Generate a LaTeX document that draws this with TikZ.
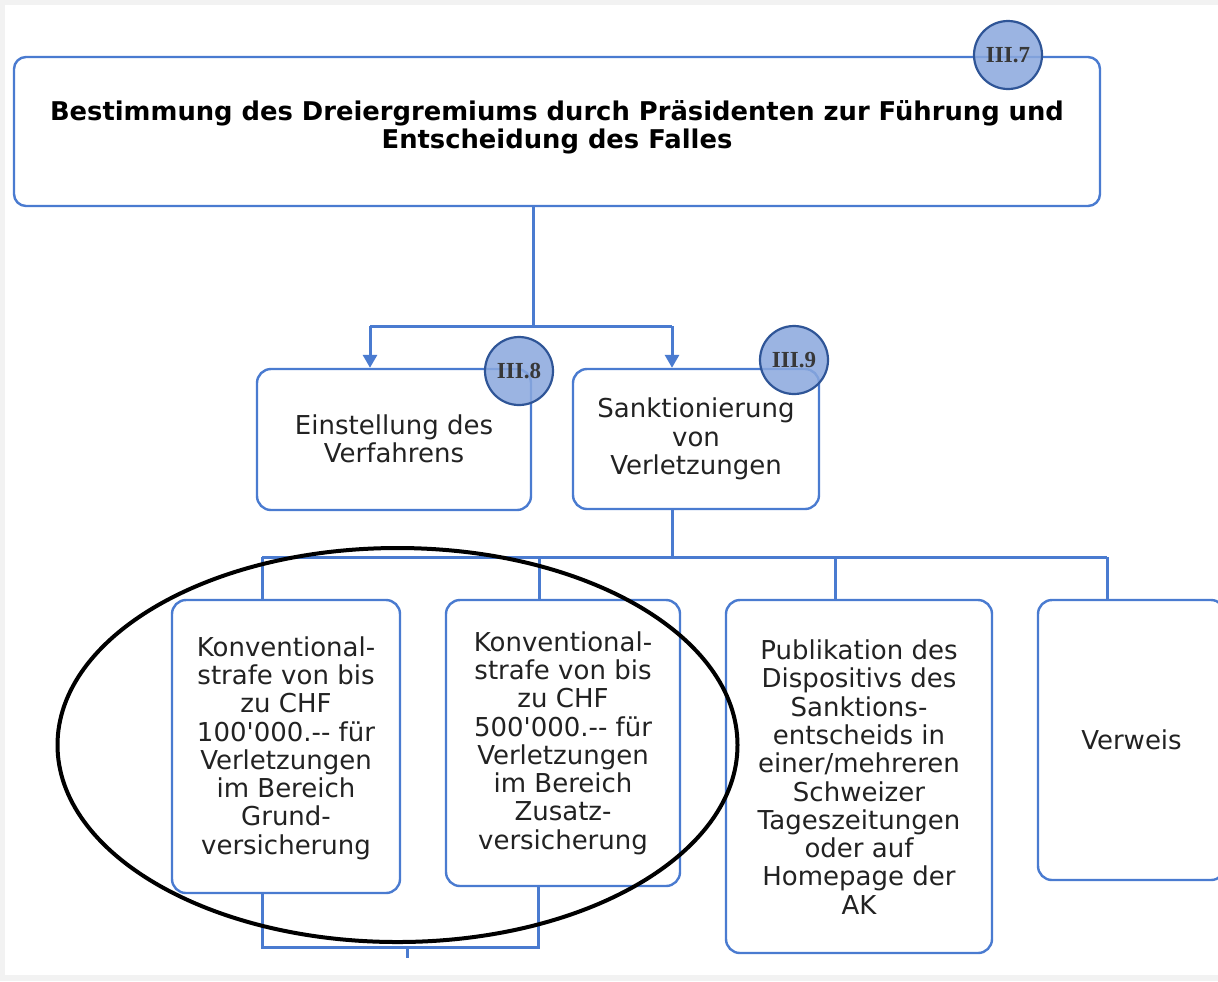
\documentclass[tikz,border=0pt]{standalone}
\usepackage{fontspec}
\setmainfont{DejaVu Sans}[Ligatures=TeXOff]
\newfontfamily\circfont{Liberation Serif}
\usetikzlibrary{arrows.meta}
\definecolor{boxblue}{HTML}{4A7BD0}
\definecolor{circfill}{HTML}{8AA8DE}
\definecolor{circline}{HTML}{2F5597}
\definecolor{txt}{HTML}{222222}
\definecolor{frame}{HTML}{F2F2F2}
\tikzset{
  box/.style={draw=boxblue, line width=1.2pt, rounded corners=7pt, fill=white, inner sep=0pt},
  boxtext/.style={align=center, text=txt, font=\fontsize{13}{14.15}\selectfont, inner sep=0pt},
  titletext/.style={align=center, text=black, font=\fontsize{12.9}{14}\selectfont\bfseries, inner sep=0pt},
  badge/.style={circle, draw=circline, line width=1.1pt, fill=circfill, fill opacity=0.85, text opacity=1, minimum size=34pt, inner sep=0pt, text=txt!90, font=\circfont\bfseries\fontsize{11.5}{12}\selectfont},
  conn/.style={draw=boxblue, line width=1.5pt},
  arr/.style={conn, -{Triangle[length=6.5pt,width=7pt]}},
  ring/.style={draw=black, line width=2pt}
}
\begin{document}
\begin{tikzpicture}[x=0.5pt,y=-0.5pt]
\useasboundingbox (0,0) rectangle (1218,981);
\clip (0,0) rectangle (1218,981);
\fill[frame] (0,0) rectangle (1218,981);
\fill[white] (5,5) rectangle (1218,975);

% boxes
\node[box, minimum width=543pt, minimum height=74.5pt, rounded corners=6pt] (top) at (557,131.5) {};
\node[titletext] (toptext) at (557,127.5) {Bestimmung des Dreiergremiums durch Präsidenten zur Führung und\\Entscheidung des Falles};

\node[box, minimum width=137pt, minimum height=70.5pt] (ein) at (394,439.5) {};
\node[boxtext] (eintext) at (394,439) {Einstellung des\\Verfahrens};

\node[box, minimum width=123pt, minimum height=70pt] (sank) at (696,439) {};
\node[boxtext] (sanktext) at (696,439) {Sanktionierung\\von\\Verletzungen};

\node[box, minimum width=114pt, minimum height=146.5pt] (k1) at (286,746.5) {};
\node[boxtext] (k1text) at (286,748) {Konventional-\\strafe von bis\\zu CHF\\100'000.-- für\\Verletzungen\\im Bereich\\Grund-\\versicherung};

\node[box, minimum width=117pt, minimum height=143pt] (k2) at (563,743) {};
\node[boxtext] (k2text) at (563,743) {Konventional-\\strafe von bis\\zu CHF\\500'000.-- für\\Verletzungen\\im Bereich\\Zusatz-\\versicherung};

\node[box, minimum width=133pt, minimum height=176.5pt] (pub) at (859,776.5) {};
\node[boxtext] (pubtext) at (859,777) {Publikation des\\Dispositivs des\\Sanktions-\\entscheids in\\einer/mehreren\\Schweizer\\Tageszeitungen\\oder auf\\Homepage der\\AK};

\node[box, minimum width=93.5pt, minimum height=140pt] (ver) at (1131.5,740) {};
\node[boxtext] (vertext) at (1131.5,740) {Verweis};

% connectors
\coordinate (j1) at (533,326);
\draw[conn] (top.south -| j1) -- (j1);
\draw[conn] (370,326) -- (672,326);
\draw[arr] (370,326) -- (ein.north -| 370,0);
\draw[arr] (672,326) -- (sank.north -| 672,0);

\coordinate (j2) at (672,557);
\draw[conn] (sank.south -| j2) -- (j2);
\draw[conn] (262,557) -- (1107,557);
\draw[conn] (262,557) -- (k1.north -| 262,0);
\draw[conn] (539,557) -- (k2.north -| 539,0);
\draw[conn] (835,557) -- (pub.north -| 835,0);
\draw[conn] (1107,557) -- (ver.north -| 1107,0);

\coordinate (stub) at (407,958);
\draw[conn] (k1.south -| 262,0) -- (262,947) -- (538,947) -- (k2.south -| 538,0);
\draw[conn] (407,947) -- (stub);

% badges
\node[badge] (b7) at (1008,55) {III.7};
\node[badge] (b8) at (519,371) {III.8};
\node[badge] (b9) at (794,360) {III.9};

% ellipse
\draw[ring] (397.5,745) ellipse [x radius=340, y radius=197];
\end{tikzpicture}
\end{document}
